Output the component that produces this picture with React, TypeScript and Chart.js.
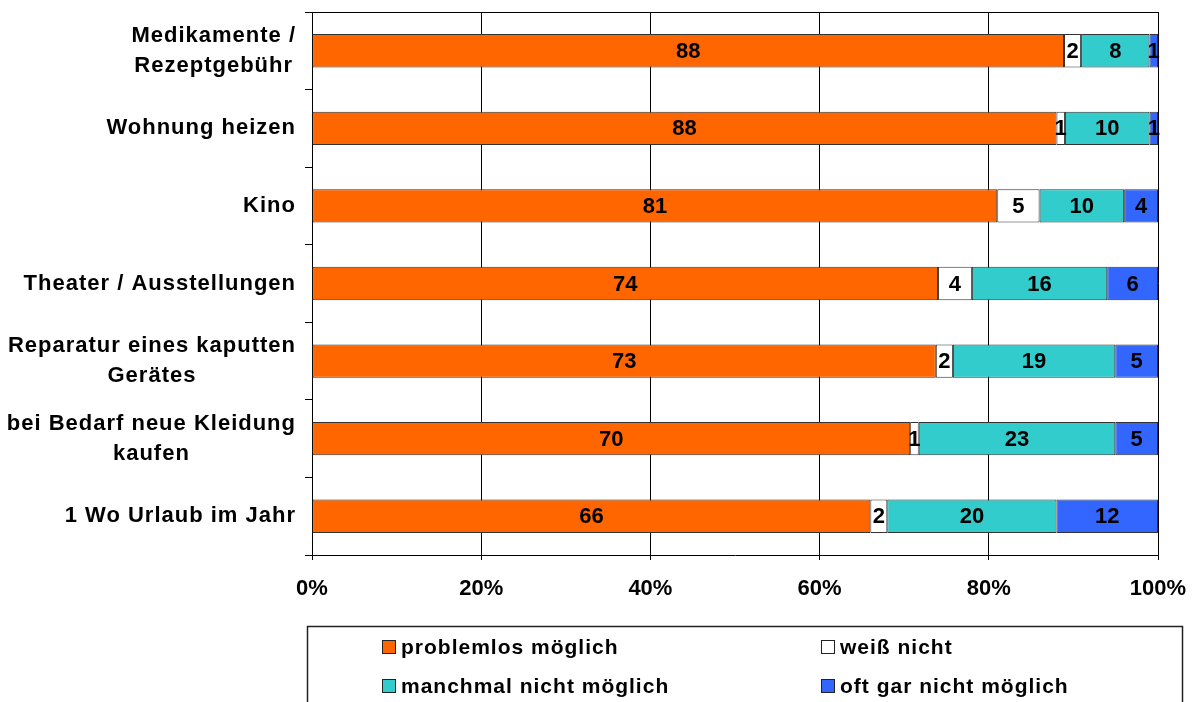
import React, { useEffect, useRef } from "react";
import { Chart, registerables } from "chart.js";

Chart.register(...registerables);

const FONT = '"Liberation Sans", Arial, Helvetica, sans-serif';

const categories: string[][] = [
  ["Medikamente /", "Rezeptgebühr"],
  ["Wohnung heizen"],
  ["Kino"],
  ["Theater / Ausstellungen"],
  ["Reparatur eines kaputten", "Gerätes"],
  ["bei Bedarf neue Kleidung", "kaufen"],
  ["1 Wo Urlaub im Jahr"],
];

const seriesNames = [
  "problemlos möglich",
  "weiß nicht",
  "manchmal nicht möglich",
  "oft gar nicht möglich",
];
const seriesColors = ["#FF6600", "#FFFFFF", "#33CCCC", "#3366FF"];

const problemlos = [88, 88, 81, 74, 73, 70, 66];
const weissNicht = [2, 1, 5, 4, 2, 1, 2];
const manchmal = [8, 10, 10, 16, 19, 23, 20];
const oftGar = [1, 1, 4, 6, 5, 5, 12];

const xTicks = [0, 20, 40, 60, 80, 100];

const rawSeries = [problemlos, weissNicht, manchmal, oftGar];

// 100% stacking: each row is scaled to its own total
const rowTotals = categories.map((_, i) =>
  rawSeries.reduce((s, arr) => s + arr[i], 0)
);
const shares = rawSeries.map((arr) =>
  arr.map((v, i) => (v / rowTotals[i]) * 100)
);

// Category names at the left, multi-line blocks centred per line
const categoryTextPlugin = {
  id: "categoryText",
  afterDraw(chart: any) {
    const { ctx, scales } = chart;
    const y = scales.y;
    const right = 295;
    const spacing = 1;
    ctx.save();
    ctx.font = `bold 22px ${FONT}`;
    (ctx as any).letterSpacing = `${spacing}px`;
    ctx.fillStyle = "#000";
    ctx.textBaseline = "middle";
    ctx.textAlign = "left";
    categories.forEach((lines, i) => {
      const cy = y.getPixelForValue(i);
      const widths = lines.map((l) => ctx.measureText(l).width - spacing);
      const blockW = Math.max(...widths);
      const blockCenter = right - blockW / 2;
      const lh = 30;
      const startY = cy - ((lines.length - 1) * lh) / 2;
      lines.forEach((l, k) => {
        ctx.fillText(l, blockCenter - widths[k] / 2, startY + k * lh);
      });
    });
    ctx.restore();
  },
};

// Value labels in the middle of each segment
const valueLabelPlugin = {
  id: "valueLabels",
  afterDatasetsDraw(chart: any) {
    const { ctx } = chart;
    ctx.save();
    ctx.font = `bold 22px ${FONT}`;
    ctx.fillStyle = "#000";
    ctx.textAlign = "center";
    ctx.textBaseline = "middle";
    chart.data.datasets.forEach((ds: any, di: number) => {
      const meta = chart.getDatasetMeta(di);
      meta.data.forEach((el: any, i: number) => {
        const v = rawSeries[di][i];
        const cx = (el.x + el.base) / 2;
        ctx.fillText(String(v), cx, el.y + 1);
      });
    });
    ctx.restore();
  },
};

// Top edge of the plot frame
const frameTopPlugin = {
  id: "frameTop",
  afterDraw(chart: any) {
    const { ctx, chartArea } = chart;
    ctx.save();
    ctx.strokeStyle = "#000";
    ctx.lineWidth = 1;
    ctx.beginPath();
    ctx.moveTo(chartArea.left, Math.round(chartArea.top) + 0.5);
    ctx.lineTo(chartArea.right, Math.round(chartArea.top) + 0.5);
    ctx.stroke();
    ctx.restore();
  },
};

// Boxed two-column legend below the axis
const legendBoxPlugin = {
  id: "legendBox",
  afterDraw(chart: any) {
    const { ctx } = chart;
    ctx.save();
    ctx.strokeStyle = "#222";
    ctx.lineWidth = 1.5;
    ctx.strokeRect(307.5, 626.5, 875, 120);
    const cols = [382, 821];
    const rows = [647, 686];
    ctx.font = `bold 21px ${FONT}`;
    (ctx as any).letterSpacing = "1px";
    ctx.textBaseline = "middle";
    ctx.textAlign = "left";
    seriesNames.forEach((name, i) => {
      const x = cols[i % 2];
      const y = rows[Math.floor(i / 2)];
      ctx.fillStyle = seriesColors[i];
      ctx.fillRect(x, y - 7, 14, 14);
      ctx.strokeStyle = "#222";
      ctx.lineWidth = 1;
      ctx.strokeRect(x + 0.5, y - 6.5, 13, 13);
      ctx.fillStyle = "#000";
      ctx.fillText(name, x + 19, y + 1);
    });
    ctx.restore();
  },
};

export default function App() {
  const ref = useRef<HTMLCanvasElement | null>(null);

  useEffect(() => {
    if (!ref.current) return;
    const chart = new Chart(ref.current, {
      type: "bar",
      data: {
        labels: categories.map((c) => c.join(" ")),
        datasets: seriesNames.map((name, i) => ({
          label: name,
          data: shares[i],
          backgroundColor: seriesColors[i],
          borderColor: "#333333",
          borderWidth: 1,
          borderSkipped: false,
          categoryPercentage: 1,
          barPercentage: 0.43,
        })),
      },
      options: {
        indexAxis: "y",
        responsive: false,
        animation: false,
        devicePixelRatio: 1,
        layout: { padding: { top: 12, right: 41, bottom: 87, left: 0 } },
        plugins: {
          legend: { display: false },
          tooltip: { enabled: false },
          title: { display: false },
        },
        scales: {
          x: {
            type: "linear",
            stacked: true,
            min: 0,
            max: 100,
            afterBuildTicks(scale: any) {
              scale.ticks = xTicks.map((v) => ({ value: v }));
            },
            afterFit(scale: any) {
              scale.height = 60;
              scale.paddingLeft = 0;
              scale.paddingRight = 0;
            },
            ticks: {
              color: "#000",
              font: { family: FONT, size: 22, weight: "bold" },
              padding: 16,
              maxRotation: 0,
              callback: (v: any) => `${v}%`,
            },
            grid: {
              color: "#000",
              lineWidth: 1,
              drawTicks: true,
              tickLength: 5,
            },
            border: { display: true, color: "#000", width: 1 },
          },
          y: {
            type: "category",
            stacked: true,
            offset: true,
            afterFit(scale: any) {
              scale.width = 312;
            },
            ticks: { display: false },
            grid: {
              offset: true,
              drawOnChartArea: false,
              drawTicks: true,
              tickLength: 7,
              color: "#000",
            },
            border: { display: true, color: "#000", width: 1 },
          },
        },
      },
      plugins: [categoryTextPlugin, valueLabelPlugin, frameTopPlugin, legendBoxPlugin],
    } as any);
    return () => chart.destroy();
  }, []);

  return (
    <div style={{ position: "fixed", left: 0, top: 0, width: 1199, height: 702, background: "#fff" }}>
      <canvas ref={ref} width={1199} height={702} style={{ display: "block" }} />
    </div>
  );
}
